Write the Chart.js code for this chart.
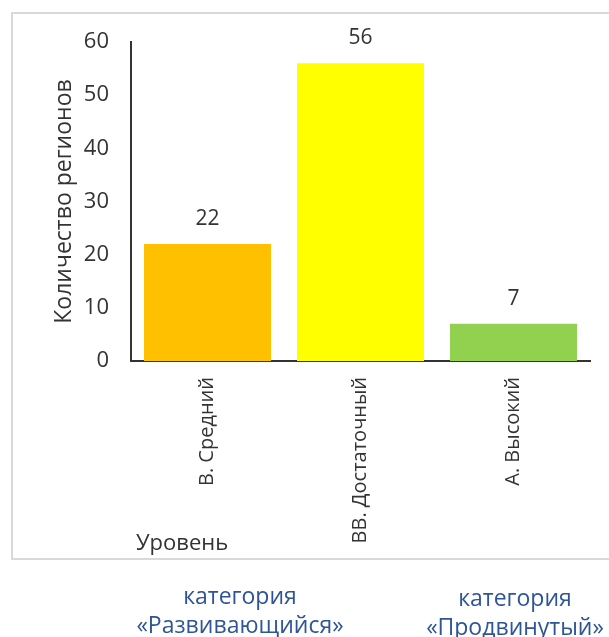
<!DOCTYPE html>
<html>
<head>
<meta charset="utf-8">
<script src="https://cdn.jsdelivr.net/npm/chart.js@4.4.1/dist/chart.umd.min.js"></script>
<style>
    html, body { margin: 0; padding: 0; background: #fff; }
    #wrap { position: relative; width: 609px; height: 637px; }
</style>
</head>
<body>
<div id="wrap"><canvas id="levelChart" width="609" height="637"></canvas></div>
<script>
// Chart data
const levels = ['В. Средний', 'ВВ. Достаточный', 'А. Высокий'];
const regionCounts = [22, 56, 7];
const barColors = ['#FFC000', '#FFFF00', '#92D050'];
const yTicks = [0, 10, 20, 30, 40, 50, 60];
const xAxisName = 'Уровень';
const groupNotes = [
    { lines: ['категория', '«Развивающийся»'], x: 240, y: 597 },
    { lines: ['категория', '«Продвинутый»'], x: 515, y: 599 }
];

const FONT = '"Open Sans", sans-serif';
const TEXT = '#333333';

// Frame around the chart, axis name and notes under it
const framePlugin = {
    id: 'frame',
    beforeDraw(chart) {
        const ctx = chart.ctx;
        ctx.save();
        ctx.strokeStyle = '#D9D9D9';
        ctx.lineWidth = 2;
        ctx.strokeRect(12, 13, 620, 546);
        ctx.restore();
    },
    afterDraw(chart) {
        const ctx = chart.ctx;
        ctx.save();
        ctx.textBaseline = 'middle';

        ctx.font = '22px ' + FONT;
        ctx.fillStyle = TEXT;
        ctx.textAlign = 'left';
        ctx.fillText(xAxisName, 136, 544);

        ctx.font = '23px ' + FONT;
        ctx.fillStyle = '#2F5597';
        ctx.textAlign = 'center';
        groupNotes.forEach(note => {
            note.lines.forEach((line, i) => {
                ctx.fillText(line, note.x, note.y + i * 29);
            });
        });
        ctx.restore();
    }
};

// Value labels above bars
const valueLabels = {
    id: 'valueLabels',
    afterDatasetsDraw(chart) {
        const ctx = chart.ctx;
        const meta = chart.getDatasetMeta(0);
        ctx.save();
        ctx.font = '21px ' + FONT;
        ctx.fillStyle = TEXT;
        ctx.textAlign = 'center';
        ctx.textBaseline = 'middle';
        meta.data.forEach((bar, i) => {
            ctx.fillText(String(regionCounts[i]), bar.x, bar.y - 25);
        });
        ctx.restore();
    }
};

new Chart(document.getElementById('levelChart'), {
    type: 'bar',
    data: {
        labels: levels,
        datasets: [{
            data: regionCounts,
            backgroundColor: barColors,
            borderWidth: 0,
            barPercentage: 0.83,
            categoryPercentage: 1
        }]
    },
    options: {
        responsive: false,
        animation: false,
        layout: { padding: { left: 0, right: 19, top: 42, bottom: 0 } },
        plugins: {
            legend: { display: false },
            tooltip: { enabled: false }
        },
        scales: {
            x: {
                afterFit(scale) { scale.height = 276; },
                grid: { display: false, drawTicks: false },
                border: { display: true, color: '#333333', width: 2 },
                ticks: {
                    color: TEXT,
                    font: { family: FONT, size: 20 },
                    minRotation: 90,
                    maxRotation: 90,
                    padding: 16
                }
            },
            y: {
                min: 0,
                max: 60,
                afterFit(scale) { scale.width = 131; },
                afterBuildTicks(scale) { scale.ticks = yTicks.map(v => ({ value: v })); },
                grid: { display: false, drawTicks: false },
                border: { display: true, color: '#333333', width: 2 },
                ticks: {
                    color: TEXT,
                    font: { family: FONT, size: 22 },
                    padding: 22
                },
                title: {
                    display: true,
                    text: 'Количество регионов',
                    color: TEXT,
                    font: { family: FONT, size: 23 },
                    padding: { top: 51, bottom: 0 }
                }
            }
        }
    },
    plugins: [framePlugin, valueLabels]
});
</script>
</body>
</html>
